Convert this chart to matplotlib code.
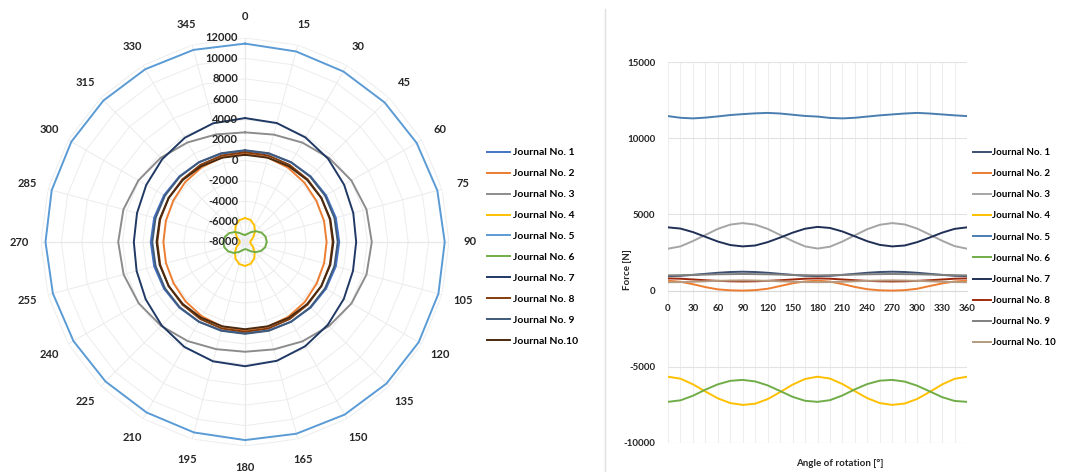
import numpy as np
import matplotlib
matplotlib.use("Agg")
import matplotlib.pyplot as plt
from matplotlib.lines import Line2D
from matplotlib.transforms import ScaledTranslation

plt.rcParams['font.family'] = ['Lato', 'DejaVu Sans']
plt.rcParams['font.weight'] = 'bold'
plt.rcParams['axes.unicode_minus'] = False

# crank angle, every 15 deg over one revolution
angles = list(range(0, 361, 15))

# journal bearing loads [N]
j1 = [950, 970, 1030, 1100, 1170, 1220, 1240, 1220, 1170, 1100, 1030, 970, 950,
      970, 1030, 1100, 1170, 1220, 1240, 1220, 1170, 1100, 1030, 970, 950]
j2 = [650, 580, 420, 230, 80, 20, 0, 30, 120, 300, 480, 600, 650,
      590, 430, 240, 90, 20, 0, 30, 120, 300, 470, 600, 650]
j3 = [2750, 2900, 3250, 3650, 4050, 4330, 4430, 4330, 4050, 3650, 3250, 2900, 2760,
      2880, 3220, 3630, 4030, 4320, 4430, 4340, 4070, 3680, 3270, 2920, 2750]
j4 = [-5650, -5780, -6150, -6620, -7070, -7380, -7500, -7420, -7120, -6660, -6170, -5800, -5650,
      -5770, -6130, -6600, -7060, -7380, -7500, -7410, -7110, -6650, -6160, -5790, -5650]
j5 = [11450, 11340, 11300, 11350, 11430, 11520, 11580, 11630, 11660, 11620, 11540, 11460, 11420,
      11330, 11300, 11340, 11420, 11500, 11560, 11620, 11660, 11620, 11560, 11500, 11450]
j6 = [-7300, -7200, -6900, -6500, -6150, -5920, -5860, -5960, -6220, -6590, -6970, -7230, -7300,
      -7190, -6880, -6480, -6130, -5910, -5860, -5970, -6240, -6610, -6990, -7240, -7300]
j7 = [4150, 4070, 3840, 3530, 3220, 2990, 2900, 2960, 3180, 3480, 3800, 4060, 4180,
      4110, 3880, 3560, 3240, 3000, 2900, 2960, 3180, 3480, 3800, 4050, 4150]
j8 = [800, 780, 730, 680, 640, 610, 600, 610, 640, 680, 730, 780, 800,
      780, 730, 680, 640, 610, 600, 610, 640, 680, 730, 780, 800]
j9 = [1000, 1010, 1030, 1050, 1070, 1080, 1090, 1080, 1070, 1050, 1030, 1010, 1000,
      1010, 1030, 1050, 1070, 1080, 1090, 1080, 1070, 1050, 1030, 1010, 1000]
j10 = [550, 560, 580, 610, 640, 660, 670, 660, 640, 610, 580, 560, 550,
       560, 580, 610, 640, 660, 670, 660, 640, 610, 580, 560, 550]

series = [j1, j2, j3, j4, j5, j6, j7, j8, j9, j10]
radar_names = ['Journal No. 1', 'Journal No. 2', 'Journal No. 3', 'Journal No. 4',
               'Journal No. 5', 'Journal No. 6', 'Journal No. 7', 'Journal No. 8',
               'Journal No. 9', 'Journal No.10']
line_names = ['Journal No. %d' % i for i in range(1, 11)]

radar_colors = ['#4472C4', '#ED7D31', '#8C8C8C', '#FFC000', '#5B9BD5',
                '#70AD47', '#1F3864', '#843C0C', '#3F5A7A', '#4A2A10']
line_colors = ['#3B4F72', '#ED7D31', '#A5A5A5', '#FFC000', '#4A7EB0',
               '#70AD47', '#1F2F55', '#9E2A0E', '#7F7F7F', '#B59A80']

r_ticks = list(range(-8000, 12001, 2000))
theta_labels = list(range(0, 360, 15))

fig = plt.figure(figsize=(10.65, 4.72), dpi=100)

# ---- radar chart ----
ax = fig.add_axes([41 / 1065, 26 / 472, 408 / 1065, 408 / 472], projection='polar')
ax.set_theta_zero_location('N')
ax.set_theta_direction(-1)
ax.set_ylim(-8000, 12000)
ax.spines['polar'].set_visible(False)
ax.set_thetagrids(theta_labels, labels=[])
ax.xaxis.grid(True, color='#EBEBEB', lw=0.7)
ax.yaxis.grid(False)
ax.set_yticklabels([])
ax.tick_params(axis='y', length=0)

th = np.deg2rad(angles)
# polygon rings like a spreadsheet radar chart
for rv in r_ticks[1:]:
    ax.plot(th, [rv] * len(th), color='#EDEDED', lw=0.7, zorder=1)
for a in (0, 90, 180, 270):
    ax.plot([np.deg2rad(a)] * 2, [-8000, 12000], color='#BDBDBD', lw=0.8, zorder=1)

for vals, c, name in zip(series, radar_colors, radar_names):
    ax.plot(th, vals, color=c, lw=1.4, label=name, zorder=3)

off = ScaledTranslation(-5 / 72, 0, fig.dpi_scale_trans)
for rv in r_ticks:
    ax.text(0, rv, str(rv), transform=ax.transData + off, ha='right', va='center',
            fontsize=8, color='#262626', zorder=5)
for a in theta_labels:
    ax.text(np.deg2rad(a), 14100, str(a), ha='center', va='center',
            fontsize=8, color='#262626', clip_on=False)

h1, l1 = ax.get_legend_handles_labels()
fig.legend(h1, l1, loc='upper left', bbox_to_anchor=(487 / 1065, 1 - 148 / 472),
           frameon=False, fontsize=7.5, handlelength=2.2, handletextpad=0.3,
           labelspacing=1.12, borderaxespad=0, borderpad=0)

# ---- line chart ----
ax2 = fig.add_axes([668 / 1065, 29 / 472, 299 / 1065, 381 / 472])
for vals, c, name in zip(series, line_colors, line_names):
    ax2.plot(angles, vals, color=c, lw=1.4, label=name, zorder=3)

ax2.set_xlim(0, 360)
ax2.set_ylim(-10000, 15000)
ax2.set_yticks(range(-10000, 15001, 5000))
ax2.set_xticks(range(0, 361, 30))
ax2.set_xticks(range(15, 360, 30), minor=True)
ax2.grid(True, axis='y', color='#E3E3E3', lw=0.8)
ax2.grid(True, axis='x', which='both', color='#EEEEEE', lw=0.8)
ax2.set_axisbelow(True)
for s in ('top', 'right', 'left'):
    ax2.spines[s].set_visible(False)
ax2.spines['bottom'].set_position(('data', 0))
ax2.spines['bottom'].set_color('#D9D9D9')
ax2.tick_params(axis='both', which='both', length=0, labelsize=7, labelcolor='#262626')
ax2.tick_params(axis='x', pad=10)
ax2.tick_params(axis='y', pad=9)

fig.text(627 / 1065, 1 - 270 / 472, 'Force [N]', rotation=90, ha='center', va='center',
         fontsize=7, color='#262626')
fig.text(840 / 1065, 1 - 463 / 472, 'Angle of rotation [°]', ha='center', va='center',
         fontsize=7, color='#262626')

h2, l2 = ax2.get_legend_handles_labels()
fig.legend(h2, l2, loc='upper left', bbox_to_anchor=(973 / 1065, 1 - 148 / 472),
           frameon=False, fontsize=7, handlelength=1.8, handletextpad=0.2,
           labelspacing=1.25, borderaxespad=0, borderpad=0)

# divider between the two panels
fig.add_artist(Line2D([605 / 1065] * 2, [0, 0.98], color='#E0E0E0', lw=1))

fig.savefig('out.png', dpi=100, facecolor='white')
